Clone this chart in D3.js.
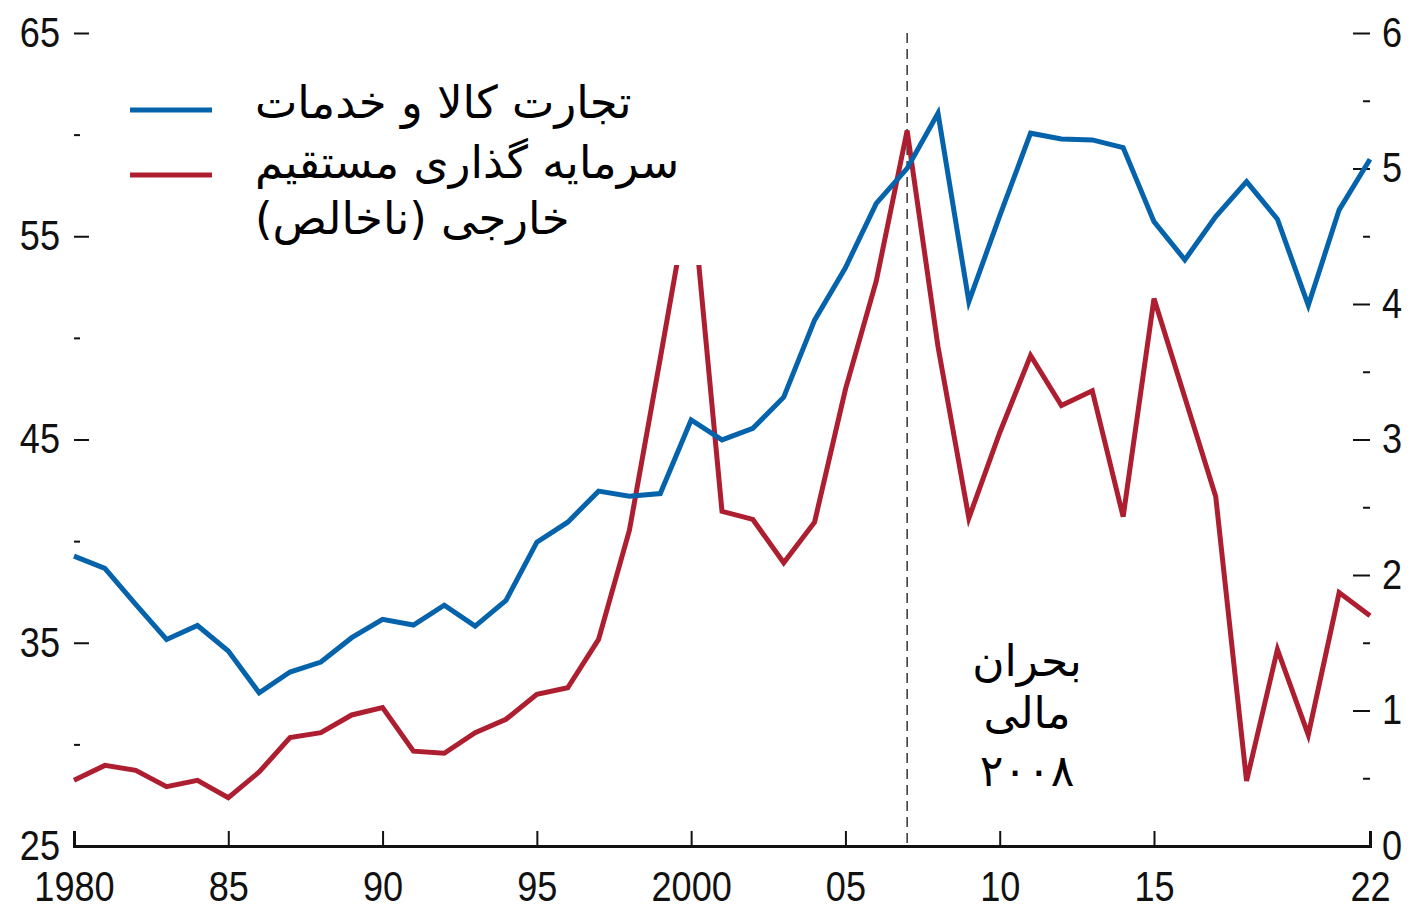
<!DOCTYPE html>
<html>
<head>
<meta charset="utf-8">
<script src="https://cdn.jsdelivr.net/npm/d3@7"></script>
<style>
  body { margin: 0; background: #fff; }
  .tick text { font-family: "Liberation Sans", Arial, sans-serif; font-size: 42px; fill: #111; }
  .fa { font-family: "DejaVu Sans", "Noto Sans", sans-serif; fill: #000; }
</style>
</head>
<body>
<div id="chart"></div>
<script>
var years = d3.range(1980, 2023);

// trade in goods and services (left axis)
var trade = [39.26, 38.66, 36.89, 35.16, 35.85, 34.59, 32.54, 33.56, 34.05, 35.25,
             36.15, 35.87, 36.85, 35.82, 37.08, 39.95, 40.93, 42.46, 42.21, 42.34,
             45.96, 44.98, 45.55, 47.08, 50.87, 53.45, 56.62, 58.34, 61.05, 51.78,
             56.0, 60.07, 59.79, 59.74, 59.36, 55.72, 53.84, 55.97, 57.69, 55.84,
             51.6, 56.3, 58.79];

// gross FDI (right axis)
var fdi = [0.485, 0.595, 0.558, 0.438, 0.485, 0.357, 0.546, 0.80, 0.836, 0.967,
           1.021, 0.70, 0.684, 0.836, 0.935, 1.119, 1.168, 1.525, 2.33, 3.60,
           4.89, 2.47, 2.41, 2.09, 2.39, 3.37, 4.17, 5.28, 3.685, 2.42,
           3.05, 3.62, 3.25, 3.36, 2.43, 4.04, 3.31, 2.58, 0.48, 1.45,
           0.82, 1.87, 1.70];

var xTicks = [1980, 1985, 1990, 1995, 2000, 2005, 2010, 2015, 2022];
var xTickLabels = ["1980", "85", "90", "95", "2000", "05", "10", "15", "22"];
var leftTicks = [25, 35, 45, 55, 65];
var leftMinor = [30, 40, 50, 60];
var rightTicks = [0, 1, 2, 3, 4, 5, 6];
var rightMinor = [0.5, 1.5, 2.5, 3.5, 4.5, 5.5];

var legendLabels = [["تجارت کالا و خدمات"], ["سرمایه گذاری مستقیم", "خارجی (ناخالص)"]];
var crisisLabel = ["بحران", "مالی", "۲۰۰۸"];

var width = 1410, height = 906;
var blue = "#0563ac", red = "#ad1f30";
var squeeze = 0.86;   // narrow look of the tick digits

var svg = d3.select("#chart").append("svg")
    .attr("width", width)
    .attr("height", height);

var x = d3.scaleLinear().domain([1980, 2022]).range([74, 1370]);
var yL = d3.scaleLinear().domain([25, 65]).range([846, 33]);
var yR = d3.scaleLinear().domain([0, 6]).range([846, 33]);

function narrow(g) {
    g.selectAll(".tick text").each(function() {
        var t = d3.select(this);
        var x0 = +t.attr("x") || 0;
        t.attr("x", x0 / squeeze).attr("transform", "scale(" + squeeze + ",1)");
    });
}

// bottom axis
var gx = svg.append("g")
    .attr("transform", "translate(0,846)")
    .call(d3.axisBottom(x)
        .tickValues(xTicks)
        .tickFormat(function(d, i) { return xTickLabels[i]; })
        .tickSizeInner(-15)
        .tickSizeOuter(-15)
        .tickPadding(25));
gx.select(".domain").attr("stroke", "#111").attr("stroke-width", 3);
gx.selectAll(".tick line").attr("stroke", "#111").attr("stroke-width", 2);
narrow(gx);

// left axis
var gl = svg.append("g")
    .attr("transform", "translate(74,0)")
    .call(d3.axisLeft(yL).tickValues(leftTicks).tickFormat(d3.format("d")).tickSize(-15).tickPadding(14));
gl.select(".domain").remove();
gl.selectAll(".tick line").attr("stroke", "#111").attr("stroke-width", 2)
    .filter(function(d) { return d === 25; }).remove();
narrow(gl);

var glm = svg.append("g")
    .attr("transform", "translate(74,0)")
    .call(d3.axisLeft(yL).tickValues(leftMinor).tickSize(-6).tickFormat(""));
glm.select(".domain").remove();
glm.selectAll(".tick line").attr("stroke", "#111").attr("stroke-width", 2);

// right axis
var gr = svg.append("g")
    .attr("transform", "translate(1370,0)")
    .call(d3.axisRight(yR).tickValues(rightTicks).tickFormat(d3.format("d")).tickSize(-17).tickPadding(12));
gr.select(".domain").remove();
gr.selectAll(".tick line").attr("stroke", "#111").attr("stroke-width", 2)
    .filter(function(d) { return d === 0; }).remove();
narrow(gr);

var grm = svg.append("g")
    .attr("transform", "translate(1370,0)")
    .call(d3.axisRight(yR).tickValues(rightMinor).tickSize(-7).tickFormat(""));
grm.select(".domain").remove();
grm.selectAll(".tick line").attr("stroke", "#111").attr("stroke-width", 2);

// crisis marker
svg.append("line")
    .attr("x1", x(2007)).attr("x2", x(2007))
    .attr("y1", yL(65)).attr("y2", yL(25))
    .attr("stroke", "#333")
    .attr("stroke-width", 1.5)
    .attr("stroke-dasharray", "10,6");

var lineL = d3.line()
    .x(function(d, i) { return x(years[i]); })
    .y(function(d) { return yL(d); });
var lineR = d3.line()
    .x(function(d, i) { return x(years[i]); })
    .y(function(d) { return yR(d); });

svg.append("path")
    .datum(fdi)
    .attr("d", lineR)
    .attr("fill", "none")
    .attr("stroke", red)
    .attr("stroke-width", 5);

svg.append("path")
    .datum(trade)
    .attr("d", lineL)
    .attr("fill", "none")
    .attr("stroke", blue)
    .attr("stroke-width", 5);

// legend box hides the top of the 2000 spike
svg.append("rect")
    .attr("x", 222).attr("y", 55)
    .attr("width", 484).attr("height", 210)
    .attr("fill", "#fff");

svg.append("line")
    .attr("x1", 130).attr("x2", 212).attr("y1", 110).attr("y2", 110)
    .attr("stroke", blue).attr("stroke-width", 5);
svg.append("line")
    .attr("x1", 130).attr("x2", 212).attr("y1", 175).attr("y2", 175)
    .attr("stroke", red).attr("stroke-width", 5);

var legendY = [[118], [178, 234]];
legendLabels.forEach(function(lines, k) {
    lines.forEach(function(t, j) {
        svg.append("text")
            .attr("class", "fa")
            .attr("x", 255)
            .attr("y", legendY[k][j])
            .attr("direction", "rtl")
            .attr("text-anchor", "end")
            .attr("font-size", 45)
            .text(t);
    });
});

// crisis label
svg.append("rect")
    .attr("x", 935).attr("y", 622)
    .attr("width", 100).attr("height", 175)
    .attr("fill", "#fff");

var crisisY = [676, 728, 786];
crisisLabel.forEach(function(t, i) {
    svg.append("text")
        .attr("class", "fa")
        .attr("x", 1027)
        .attr("y", crisisY[i])
        .attr("direction", "rtl")
        .attr("text-anchor", "middle")
        .attr("font-size", 44)
        .text(t);
});
</script>
</body>
</html>
